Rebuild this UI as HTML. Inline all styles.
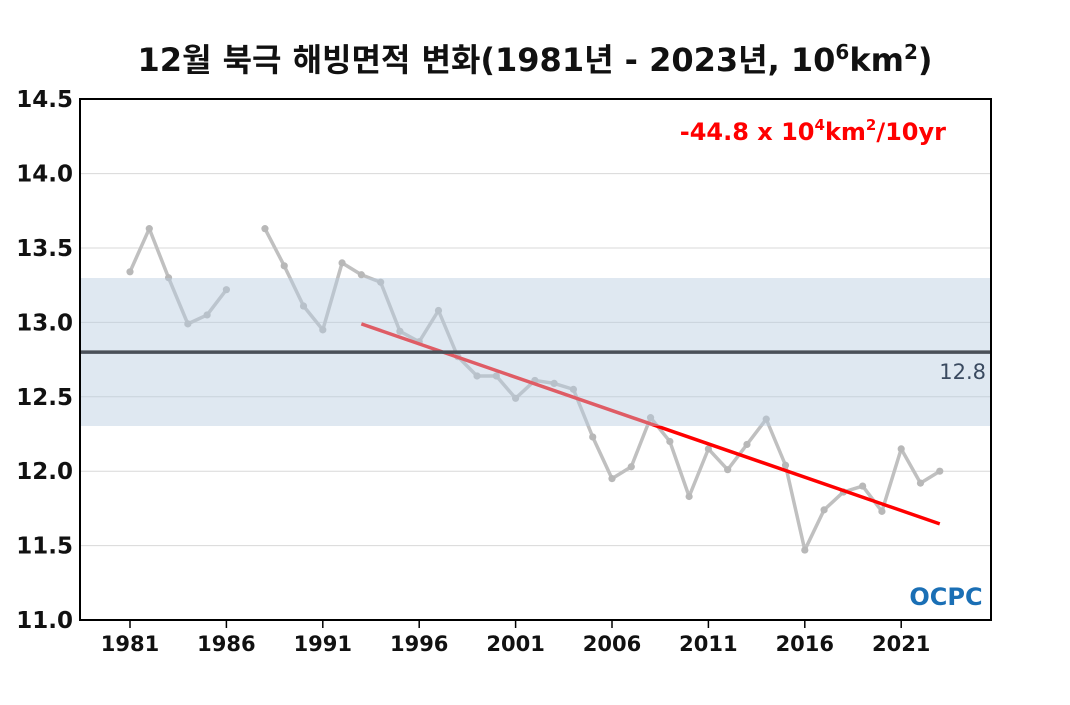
<!DOCTYPE html>
<html><head><meta charset="utf-8"><style>
body{margin:0;background:#fff;}
svg text{font-family:"DejaVu Sans","Liberation Sans","Noto Sans CJK KR",sans-serif;}
</style></head><body>
<svg id="c" width="1070" height="700">
<text x="535" y="71" text-anchor="middle" font-size="32" font-weight="bold" fill="#111">12월 북극 해빙면적 변화(1981년 - 2023년, 10<tspan dy="-12" font-size="20">6</tspan><tspan dy="12">km</tspan><tspan dy="-12" font-size="20">2</tspan><tspan dy="12">)</tspan></text>
<g id="grid"></g>
<g id="marks"></g>
<rect x="80" y="278" width="911" height="148" fill="rgb(184,204,224)" fill-opacity="0.45"/>
<g id="top"></g>
<rect x="80" y="99" width="911" height="521" fill="none" stroke="#000" stroke-width="2"/>
<text x="946" y="140" text-anchor="end" font-size="24" font-weight="bold" fill="#f00">-44.8 x 10<tspan dy="-10" font-size="15">4</tspan><tspan dy="10">km</tspan><tspan dy="-10" font-size="15">2</tspan><tspan dy="10">/10yr</tspan></text>
<text x="986" y="379" text-anchor="end" font-size="21" fill="#3a4a60">12.8</text>
<text x="946" y="605" text-anchor="middle" font-size="24" font-weight="bold" fill="#1a6fb5">OCPC</text>
</svg>
<script>
const years=[];for(let y=1981;y<=2023;y++)years.push(y);
const values=[13.34,13.63,13.30,12.99,13.05,13.22,null,13.63,13.38,13.11,12.95,13.40,13.32,13.27,12.94,12.87,13.08,12.77,12.64,12.64,12.49,12.61,12.59,12.55,12.23,11.95,12.03,12.36,12.20,11.83,12.15,12.01,12.18,12.35,12.04,11.47,11.74,11.86,11.90,11.73,12.15,11.92,12.00];
const yTicks=[11.0,11.5,12.0,12.5,13.0,13.5,14.0,14.5];
const xTicks=[1981,1986,1991,1996,2001,2006,2011,2016,2021];
const meanValue=12.8;
const trendStart=[1993,12.99];
const trendEnd=[2023,11.646];
const X=y=>130+(y-1981)*19.28;
const Y=v=>620-(v-11)*148.8;
const NS='http://www.w3.org/2000/svg';
function mk(t,a,p){const e=document.createElementNS(NS,t);for(const k in a)e.setAttribute(k,a[k]);p.appendChild(e);return e;}
const grid=document.getElementById('grid'),marks=document.getElementById('marks'),top_=document.getElementById('top'),svg=document.getElementById('c');
yTicks.forEach(t=>{
 const l=mk('line',{x1:80,x2:991,y1:Y(t),y2:Y(t),stroke:'#d8d8d8','stroke-width':1},grid);
 
 
 const tx=mk('text',{x:73,y:Y(t)+8,'text-anchor':'end','font-size':23,'font-weight':'bold',fill:'#111'},svg);
 tx.textContent=t.toFixed(1);
 
 
});
xTicks.forEach(t=>{
 const l=mk('line',{x1:X(t),x2:X(t),y1:620,y2:628,stroke:'#000','stroke-width':1.5},svg);
 
 
 const tx=mk('text',{x:X(t),y:651,'text-anchor':'middle','font-size':21,'font-weight':'bold',fill:'#111'},svg);
 tx.textContent=t;
 
 
});
let segs=[],cur=[];
values.forEach((v,i)=>{if(v==null){if(cur.length)segs.push(cur);cur=[];}else cur.push([X(years[i]),Y(v)]);});
if(cur.length)segs.push(cur);
segs.forEach(s=>{
 const p=mk('polyline',{points:s.map(q=>q.join(',')).join(' '),fill:'none',stroke:'#c0c0c0','stroke-width':3.5,'stroke-linejoin':'round'},marks);
 
 
});
values.forEach((v,i)=>{if(v==null)return;
 const c=mk('circle',{cx:X(years[i]),cy:Y(v),r:3.6,fill:'#b8b8b8'},marks);
 
 
});
const tl=mk('line',{x1:X(trendStart[0]),y1:Y(trendStart[1]),x2:X(trendEnd[0]),y2:Y(trendEnd[1]),stroke:'#f00','stroke-width':3.5},marks);


const ml=mk('line',{x1:80,x2:991,y1:Y(meanValue),y2:Y(meanValue),stroke:'#4a5058','stroke-width':3.5},top_);


</script>
</body></html>
